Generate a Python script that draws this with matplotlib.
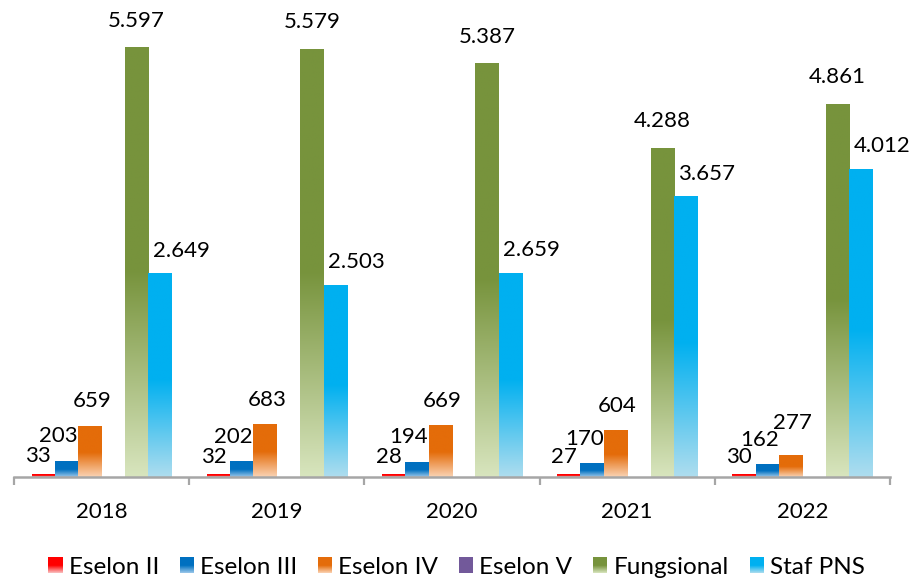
import numpy as np
import matplotlib
matplotlib.use('Agg')
import matplotlib.pyplot as plt
from matplotlib.patches import Rectangle
from matplotlib.legend_handler import HandlerBase
from matplotlib.colors import to_rgb

years = ['2018', '2019', '2020', '2021', '2022']
eselon_ii = [33, 32, 28, 27, 30]
eselon_iii = [203, 202, 194, 170, 162]
eselon_iv = [659, 683, 669, 604, 277]
eselon_v = [0, 0, 0, 0, 0]
fungsional = [5597, 5579, 5387, 4288, 4861]
staf_pns = [2649, 2503, 2659, 3657, 4012]

series_names = ['Eselon II', 'Eselon III', 'Eselon IV', 'Eselon V', 'Fungsional', 'Staf PNS']
series_values = [eselon_ii, eselon_iii, eselon_iv, eselon_v, fungsional, staf_pns]

# solid colour at the top of the bar, light colour at the base
top_colors = ['#FF0000', '#0070C0', '#E46C0A', '#72599A', '#77933C', '#00B0F0']
base_colors = ['#F9C4C4', '#9CC8EA', '#FAD3B4', '#72599A', '#D8E5BE', '#AEDDEE']
# label offsets in pixels (dx, dy) from the top centre of each bar
label_offsets = [(-5, 18), (-8, 25), (2, 25), (0, 0), (0, 27), (21, 23)]
label_overrides = {(2, 4): (2, 33)}

FONT = 'Lato'
FS = 16
LEGEND_FS = 17.5
SOLID_FRACTION = 0.52   # upper part of each bar in plain colour

plt.rcParams['font.family'] = [FONT, 'DejaVu Sans']


def fmt(v):
    return f'{v:,}'.replace(',', '.')


def blend(c_top, c_base, t):
    # t = 0 at the base, 1 at the top
    top = np.array(to_rgb(c_top))
    base = np.array(to_rgb(c_base))
    w = np.clip(t / (1 - SOLID_FRACTION), 0, 1)
    return base + (top - base) * np.asarray(w)[..., None]


def gradient(c_top, c_base, n=200):
    img = blend(c_top, c_base, np.linspace(0, 1, n))
    return img[:, None, :]


class GradientHandler(HandlerBase):
    """Legend key drawn as a small bar with the same fade as the bars"""
    def __init__(self, c_top, c_base, steps=16):
        super().__init__()
        self.c_top, self.c_base, self.steps = c_top, c_base, steps

    def create_artists(self, legend, orig_handle, xdescent, ydescent,
                       width, height, fontsize, trans):
        arts = []
        dh = height / self.steps
        for k in range(self.steps):
            col = blend(self.c_top, self.c_base, (k + 0.5) / self.steps)
            r = Rectangle((-xdescent, -ydescent + k * dh), width, dh * 1.05,
                          facecolor=col, edgecolor='none', transform=trans)
            arts.append(r)
        return arts


fig = plt.figure(figsize=(9.14, 5.79), dpi=100)
ax = fig.add_axes([14 / 914, 1 - 477 / 579, 876 / 914, 460 / 579])

n_series = len(series_names)
width = 1 / 7.5
x = np.arange(len(years))

for i, (name, vals) in enumerate(zip(series_names, series_values)):
    pos = x + (i - (n_series - 1) / 2) * width
    bars = ax.bar(pos, vals, width, color='none', edgecolor='none', zorder=2)
    img = gradient(top_colors[i], base_colors[i])
    for j, rect in enumerate(bars):
        h = rect.get_height()
        if h <= 0:
            continue
        x0 = rect.get_x()
        ax.imshow(img, extent=[x0, x0 + rect.get_width(), 0, h], origin='lower',
                  aspect='auto', interpolation='bilinear', zorder=2)
        dx, dy = label_overrides.get((i, j), label_offsets[i])
        ax.annotate(fmt(vals[j]), (x0 + rect.get_width() / 2, h),
                    xytext=(dx, dy), textcoords='offset pixels',
                    ha='center', va='center', fontsize=FS, color='#000000',
                    annotation_clip=False)

ax.set_xlim(-0.5, len(years) - 0.5)
ax.set_ylim(0, 6000)

for side in ['top', 'right', 'left']:
    ax.spines[side].set_visible(False)
ax.spines['bottom'].set_color('#A6A6A6')
ax.spines['bottom'].set_linewidth(1.8)
ax.spines['bottom'].set_zorder(3)

ax.set_yticks([])
ax.set_xticks(x)
ax.set_xticklabels(years, fontsize=FS)
ax.set_xticks(np.arange(-0.5, len(years)), minor=True)
ax.tick_params(axis='x', which='major', length=0, pad=18)
ax.tick_params(axis='x', which='minor', length=6, width=1.6, color='#A6A6A6')

handles = [Rectangle((0, 0), 1, 1, facecolor=c, edgecolor='none') for c in top_colors]
handler_map = {h: GradientHandler(top_colors[k], base_colors[k]) for k, h in enumerate(handles)}
fig.legend(handles, series_names, loc='center', bbox_to_anchor=(0.4995, 1 - 567 / 579),
           ncol=6, frameon=False, fontsize=LEGEND_FS, handlelength=0.58, handleheight=0.66,
           handletextpad=0.25, columnspacing=0.86, handler_map=handler_map,
           borderpad=0.1)

fig.savefig('out.png', dpi=100)
